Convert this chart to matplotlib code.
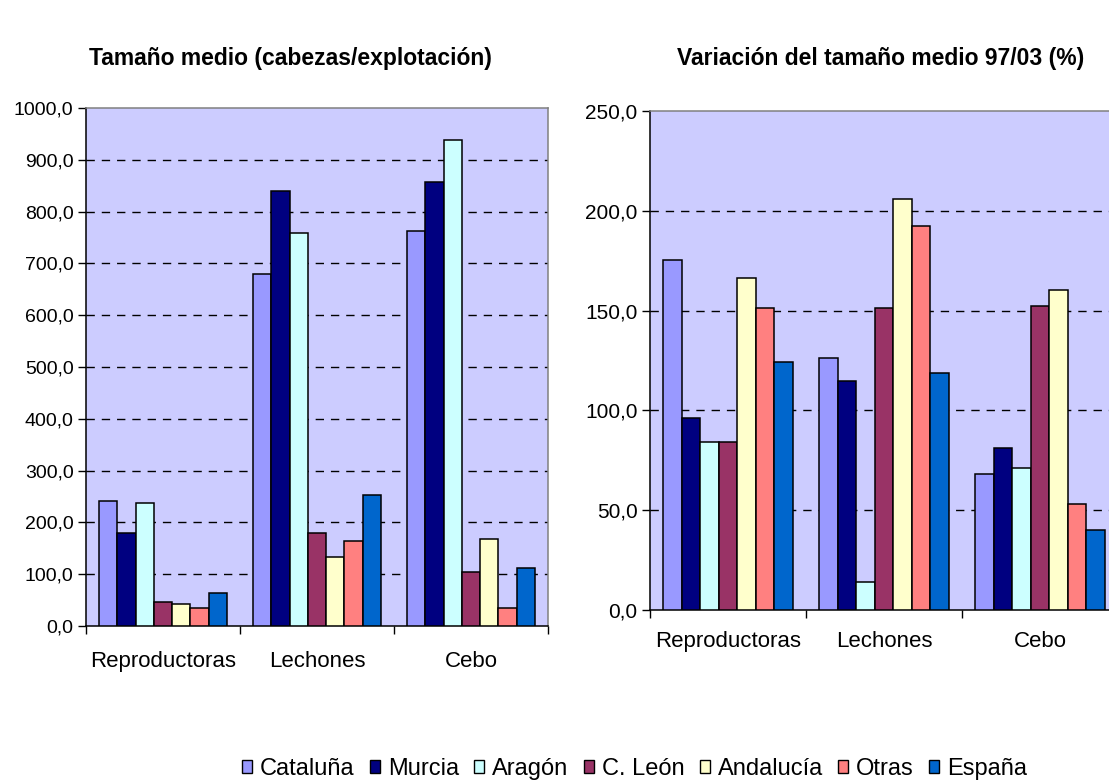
import numpy as np
import matplotlib
matplotlib.use("Agg")
import matplotlib.pyplot as plt
from matplotlib.patches import Patch
from matplotlib.ticker import FuncFormatter, FixedLocator

plt.rcParams['font.family'] = ['Liberation Sans', 'DejaVu Sans']

categorias = ["Reproductoras", "Lechones", "Cebo"]
regiones = ["Cataluña", "Murcia", "Aragón", "C. León", "Andalucía", "Otras", "España"]
colores = ["#9999FF", "#000080", "#CCFFFF", "#993366", "#FFFFCC", "#FF8080", "#0066CC"]

# tamaño medio (cabezas/explotación), por región: [Reproductoras, Lechones, Cebo]
tam_cataluna = [240.5, 679.0, 762.0]
tam_murcia = [179.0, 840.0, 858.0]
tam_aragon = [237.0, 759.0, 938.0]
tam_cleon = [46.0, 179.0, 105.0]
tam_andalucia = [43.0, 134.0, 167.0]
tam_otras = [35.0, 164.0, 35.0]
tam_espana = [64.0, 252.0, 112.0]

# variación del tamaño medio 97/03 (%)
var_cataluna = [175.5, 126.5, 68.1]
var_murcia = [96.2, 114.5, 81.3]
var_aragon = [84.2, 14.0, 71.1]
var_cleon = [84.2, 151.4, 152.4]
var_andalucia = [166.5, 205.8, 160.5]
var_otras = [151.4, 192.6, 53.0]
var_espana = [124.3, 118.5, 40.0]

tamano = [tam_cataluna, tam_murcia, tam_aragon, tam_cleon, tam_andalucia, tam_otras, tam_espana]
variacion = [var_cataluna, var_murcia, var_aragon, var_cleon, var_andalucia, var_otras, var_espana]

W, H = 1109, 781
fig = plt.figure(figsize=(W / 100, H / 100), dpi=100)


def px_axes(x0, top, x1, bottom):
    return fig.add_axes([x0 / W, 1 - bottom / H, (x1 - x0) / W, (bottom - top) / H])


def comma(v, pos):
    return f"{v:.1f}".replace(".", ",")


def draw(ax, series, ymax, step, label_pad, ysize):
    ax.set_facecolor("#CCCCFF")
    n = len(series)
    bw = 1.0 / (n + 1.42)
    x = np.arange(len(categorias))
    for i, vals in enumerate(series):
        ax.bar(x + 0.5 + (i - (n - 1) / 2) * bw, vals, width=bw, color=colores[i],
               edgecolor="black", linewidth=1.1, zorder=3)
    ax.set_xlim(0, len(categorias))
    ax.set_ylim(0, ymax)
    ticks = np.arange(0, ymax + step / 2, step)
    ax.set_yticks(ticks)
    ax.yaxis.set_major_formatter(FuncFormatter(comma))
    for t in ticks[1:-1]:
        ax.axhline(t, color="black", linewidth=1.0, dashes=(6, 5), zorder=1)
    ax.set_xticks(x + 0.5)
    ax.set_xticklabels(categorias)
    ax.xaxis.set_minor_locator(FixedLocator(np.arange(len(categorias) + 1)))
    ax.tick_params(axis="x", which="major", length=0, pad=label_pad, labelsize=16)
    ax.tick_params(axis="x", which="minor", length=6, width=1, direction="out", color="black")
    ax.tick_params(axis="y", length=6, width=1, direction="out", pad=3, labelsize=ysize)
    ax.spines["left"].set_color("black")
    ax.spines["bottom"].set_color("black")
    ax.spines["top"].set_color("#808080")
    ax.spines["right"].set_color("#808080")
    for s in ax.spines.values():
        s.set_linewidth(1.1)


ax1 = px_axes(86, 108, 548, 626)
draw(ax1, tamano, 1000, 100, 18, 14)

ax2 = px_axes(650, 111, 1118, 610)
draw(ax2, variacion, 250, 50, 15, 15)

fig.text(290 / W, 1 - 58 / H, "Tamaño medio (cabezas/explotación)", ha="center", va="center",
         fontsize=16.5, fontweight="bold")
fig.text(881 / W, 1 - 58 / H, "Variación del tamaño medio 97/03 (%)", ha="center", va="center",
         fontsize=16.5, fontweight="bold")

handles = [Patch(facecolor=c, edgecolor="black", linewidth=1.0) for c in colores]
fig.legend(handles, regiones, loc="center left", bbox_to_anchor=(242 / W, 1 - 769 / H),
           ncol=len(regiones), frameon=False, fontsize=17, handlelength=0.42, handleheight=0.42,
           handletextpad=0.34, columnspacing=0.65, borderpad=0, borderaxespad=0)

fig.savefig("out.png", dpi=100)
